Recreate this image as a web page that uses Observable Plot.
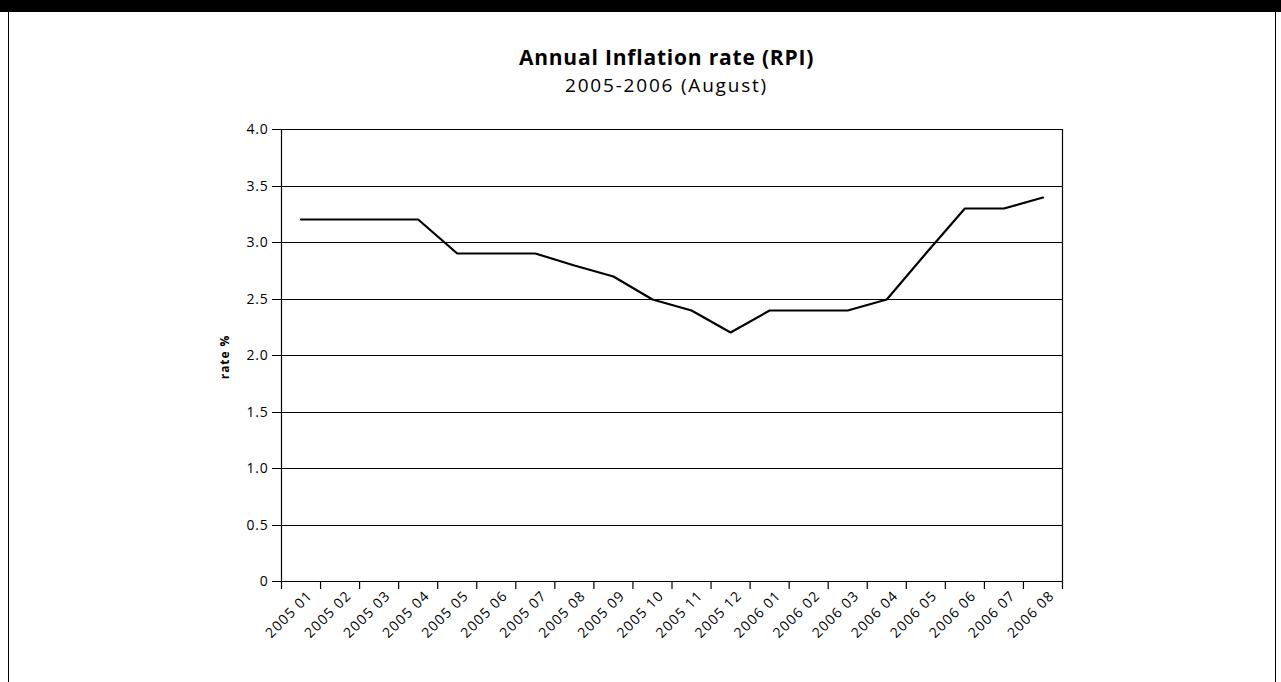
<!DOCTYPE html>
<html>
<head>
<meta charset="utf-8">
<script src="https://cdn.jsdelivr.net/npm/d3@7"></script>
<script src="https://cdn.jsdelivr.net/npm/@observablehq/plot@0.6"></script>
<style>
  html, body { margin: 0; padding: 0; background: #fff; }
  body { width: 1281px; height: 682px; position: relative; overflow: hidden; font-family: "Open Sans", sans-serif; }
  #band { position: absolute; left: 0; top: 0; width: 1281px; height: 12px; background: #000; }
  #frame { position: absolute; left: 8px; top: 12px; width: 1268px; height: 700px; border-left: 1px solid #000; border-right: 1px solid #000; box-sizing: border-box; }
  .t { position: absolute; left: 0; width: 1333px; text-align: center; line-height: 1; color: #000; white-space: nowrap; }
  #title { top: 47px; font-size: 21px; font-weight: 700; letter-spacing: 0.8px; }
  #subtitle { top: 76px; font-size: 19px; font-weight: 400; letter-spacing: 1.8px; }
  #ylab { position: absolute; left: 225px; top: 357px; transform: translate(-50%, -50%) rotate(-90deg); font-size: 12px; font-weight: 700; white-space: nowrap; line-height: 1; letter-spacing: 0.9px; }
  #chart { position: absolute; left: 0; top: 0; }
  #chart svg g.yt text { letter-spacing: 0.8px; }
  #chart svg g.xt text { letter-spacing: 1.1px; }
</style>
</head>
<body>
<div id="band"></div>
<div id="frame"></div>
<div id="chart"></div>
<div class="t" id="title">Annual Inflation rate (RPI)</div>
<div class="t" id="subtitle">2005-2006 (August)</div>
<div id="ylab">rate %</div>
<script>
const months = ["2005 01","2005 02","2005 03","2005 04","2005 05","2005 06","2005 07","2005 08","2005 09","2005 10","2005 11","2005 12","2006 01","2006 02","2006 03","2006 04","2006 05","2006 06","2006 07","2006 08"];
const rates = [3.2,3.2,3.2,3.2,2.9,2.9,2.9,2.8,2.7,2.5,2.4,2.2,2.4,2.4,2.4,2.5,2.9,3.3,3.3,3.4];
const yTicks = [0,0.5,1.0,1.5,2.0,2.5,3.0,3.5,4.0];

const data = months.map((m, i) => ({i, month: m, rate: rates[i]}));
const idx = months.map((m, i) => i);
const bounds = d3.range(months.length + 1).map(k => k - 0.5);

const chart = Plot.plot({
  width: 1281,
  height: 682,
  marginLeft: 281,
  marginRight: 219,
  marginTop: 129,
  marginBottom: 101,
  style: {fontFamily: "Open Sans, sans-serif", fontSize: "14px", color: "#000", background: "transparent", overflow: "visible"},
  x: {type: "linear", domain: [-0.5, months.length - 0.5]},
  y: {domain: [0, 4], round: true},
  marks: [
    Plot.gridY(yTicks, {stroke: "#000", strokeOpacity: 1, strokeWidth: 1}),
    Plot.axisY(yTicks, {tickSize: 9, tickPadding: 4, fontSize: 14, label: null, className: "yt",
      tickFormat: d => d === 0 ? "0" : d.toFixed(1), stroke: "#000", strokeWidth: 1}),
    Plot.ruleX([bounds[0], bounds[bounds.length - 1]], {stroke: "#000", strokeWidth: 1.2}),
    Plot.ruleY([0], {stroke: "#000", strokeWidth: 1.2}),
    Plot.axisX(bounds, {tickSize: 8, tickFormat: () => "", label: null, strokeWidth: 1.2}),
    Plot.axisX(idx, {tickSize: 0, tickPadding: 12, tickRotate: -45, dx: 9, fontSize: 14, label: null, className: "xt",
      tickFormat: i => months[i]}),
    Plot.line(data, {x: "i", y: "rate", stroke: "#000", strokeWidth: 2.2, strokeLinejoin: "miter"})
  ]
});
document.getElementById("chart").appendChild(chart);
</script>
</body>
</html>
